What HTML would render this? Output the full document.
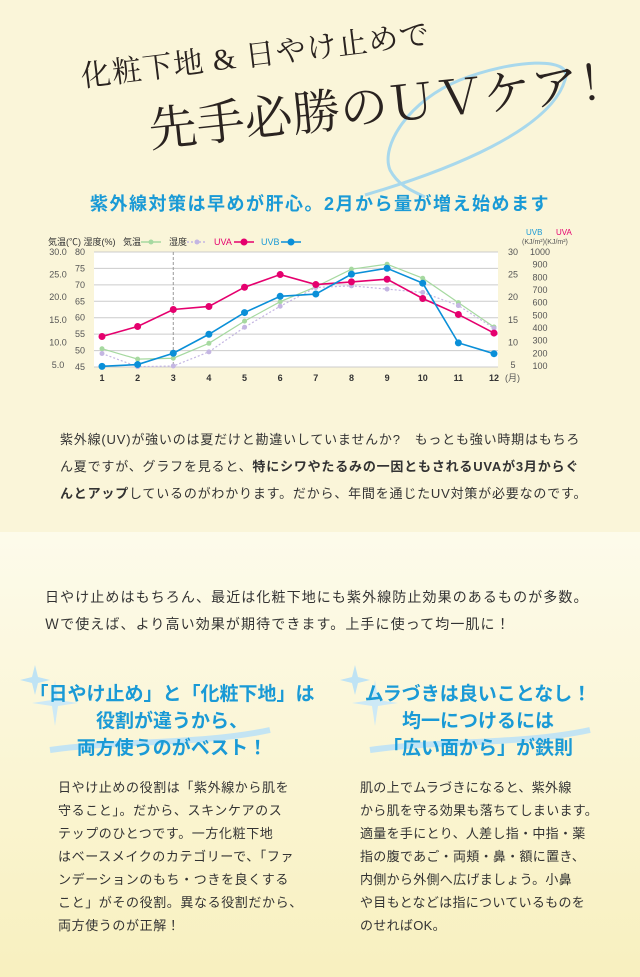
<!DOCTYPE html>
<html><head><meta charset="utf-8"><style>
*{margin:0;padding:0;box-sizing:border-box}
body{width:640px;height:977px;overflow:hidden;background:#faf5d9;font-family:"Liberation Sans","Noto Sans CJK JP",sans-serif;color:#333;position:relative}
.abs{position:absolute}
.t1{left:78px;top:52px;font-size:30px;color:#2a2320;transform:rotate(-7deg);transform-origin:left top;white-space:nowrap;font-family:"Liberation Serif","Noto Serif CJK SC",serif;letter-spacing:1px}
.t2{left:145px;top:92px;font-size:48px;color:#2a2320;transform:rotate(-6deg);transform-origin:left top;white-space:nowrap;font-family:"Liberation Serif","Noto Serif CJK SC",serif}
.sub{left:0;width:640px;top:190px;text-align:center;color:#1a9ad6;font-weight:bold;font-size:18px;letter-spacing:1.5px}
.p{font-size:13px;line-height:27px;color:#333;white-space:nowrap;letter-spacing:0.8px}
.lower{left:0;top:532px;width:640px;height:445px;background:linear-gradient(#fdfbeb,#f8f0bf)}
.h{color:#1a9ad6;font-weight:bold;font-size:19px;line-height:27px;text-align:center;width:300px;white-space:nowrap}
.col{font-size:13px;line-height:23px;letter-spacing:0.6px;color:#333;white-space:nowrap}
</style></head><body>
<svg class="abs" style="left:360px;top:55px" width="240" height="150"><path d="M5 140 C90 115 190 75 205 25 C215 0 150 5 100 25 C50 45 20 90 30 115 C38 130 50 135 65 142" fill="none" stroke="#a8d8ec" stroke-width="3"/></svg>
<div class="abs t1">化粧下地 &amp; 日やけ止めで</div>
<div class="abs t2">先手必勝のＵＶケア！</div>
<div class="abs sub">紫外線対策は早めが肝心。2月から量が増え始めます</div>
<svg class="abs" style="left:0;top:225px" width="640" height="170" id="chart"></svg>
<div class="abs p" style="left:60px;top:426px">紫外線(UV)が強いのは夏だけと勘違いしていませんか?　もっとも強い時期はもちろ<br>ん夏ですが、グラフを見ると、<b>特にシワやたるみの一因ともされるUVAが3月からぐ<br>んとアップ</b>しているのがわかります。だから、年間を通じたUV対策が必要なのです。</div>
<div class="abs lower"></div>
<div class="abs p" style="left:45px;top:584px;font-size:14px;letter-spacing:1.1px">日やけ止めはもちろん、最近は化粧下地にも紫外線防止効果のあるものが多数。<br>Ｗで使えば、より高い効果が期待できます。上手に使って均一肌に！</div>
<svg class="abs" style="left:20px;top:655px" width="620" height="110">
<path d="M15 10 l3 12 l12 3 l-12 3 l-3 12 l-3 -12 l-12 -3 l12 -3z" fill="#bfe3f4"/>
<path d="M35 25 l3 20 l20 3 l-20 3 l-3 20 l-3 -20 l-20 -3 l20 -3z" fill="#cde9f6"/>
<path d="M30 95 C100 85 180 90 250 75" stroke="#c3e4f3" stroke-width="6" fill="none"/>
<path d="M335 10 l3 12 l12 3 l-12 3 l-3 12 l-3 -12 l-12 -3 l12 -3z" fill="#bfe3f4"/>
<path d="M355 25 l3 20 l20 3 l-20 3 l-3 20 l-3 -20 l-20 -3 l20 -3z" fill="#cde9f6"/>
<path d="M350 95 C420 85 500 90 570 75" stroke="#c3e4f3" stroke-width="6" fill="none"/>
</svg>
<div class="abs h" style="left:22px;top:681px">「日やけ止め」と「化粧下地」は<br>役割が違うから、<br>両方使うのがベスト！</div>
<div class="abs h" style="left:328px;top:681px">ムラづきは良いことなし！<br>均一につけるには<br>「広い面から」が鉄則</div>
<div class="abs col" style="left:58px;top:776px">日やけ止めの役割は「紫外線から肌を<br>守ること」。だから、スキンケアのス<br>テップのひとつです。一方化粧下地<br>はベースメイクのカテゴリーで、「ファ<br>ンデーションのもち・つきを良くする<br>こと」がその役割。異なる役割だから、<br>両方使うのが正解！</div>
<div class="abs col" style="left:360px;top:776px;letter-spacing:0.3px">肌の上でムラづきになると、紫外線<br>から肌を守る効果も落ちてしまいます。<br>適量を手にとり、人差し指・中指・薬<br>指の腹であご・両頬・鼻・額に置き、<br>内側から外側へ広げましょう。小鼻<br>や目もとなどは指についているものを<br>のせればOK。</div>
<script>
const months=[1,2,3,4,5,6,7,8,9,10,11,12];
const temp=[8.6,6.3,6.5,9.8,14.7,19.0,22.3,26.2,27.3,24.2,18.8,13.4];
const humidity=[49.1,45.1,45.3,49.6,57.1,63.5,69.2,69.7,68.7,67.7,63.7,56.8];
const uva=[333,412,546,570,722,822,743,764,785,633,507,360];
const uvb=[4.7,5.1,7.6,11.8,16.6,20.2,20.7,25.1,26.4,23.1,9.9,7.5];
const tempTicks=[30,25,20,15,10,5];
const humTicks=[80,75,70,65,60,55,50,45];
const uvbTicks=[30,25,20,15,10,5];
const uvaTicks=[1000,900,800,700,600,500,400,300,200,100];
const svg=document.getElementById('chart');
const NS='http://www.w3.org/2000/svg';
const top0=27,bot=142,L=94,R=498;
const x=m=>102+(m-1)*(494-102)/11;
const yTemp=v=>top0+(30-v)*(bot-2-top0)/25;
const yHum=v=>top0+(80-v)*(bot-top0)/35;
const yUva=v=>top0+(1000-v)*(bot-1-top0)/900;
const yUvb=v=>top0+(30-v)*(bot-2-top0)/25;
function el(t,a,p){const e=document.createElementNS(NS,t);for(const k in a)e.setAttribute(k,a[k]);(p||svg).appendChild(e);return e;}
function txt(s,xx,yy,a){const e=el('text',Object.assign({x:xx,y:yy,'font-size':9,fill:'#555','font-family':'Liberation Sans, Noto Sans CJK JP, sans-serif'},a||{}));e.textContent=s;return e;}
el('rect',{x:L,y:top0,width:R-L,height:bot-top0,fill:'#fff'});
humTicks.forEach(v=>{const l=el('line',{x1:L,x2:R,y1:yHum(v),y2:yHum(v),stroke:'#ccc','stroke-width':1});


txt(v,80,yHum(v)+3,{'text-anchor':'middle'});});
tempTicks.forEach(v=>{txt(v.toFixed(1),58,yTemp(v)+3,{'text-anchor':'middle'});});
uvbTicks.forEach(v=>{txt(v,513,yUvb(v)+3,{'text-anchor':'middle'});});
uvaTicks.forEach(v=>{txt(v,540,yUva(v)+3,{'text-anchor':'middle'});});
months.forEach(m=>{const t=txt(m,x(m),bot+14,{'text-anchor':'middle','font-weight':'bold',fill:'#333'});

});
txt('(月)',505,bot+14,{'text-anchor':'start'});
el('line',{x1:x(3),x2:x(3),y1:top0,y2:bot,stroke:'#999','stroke-dasharray':'3,2'});
txt('気温(℃) 湿度(%)',48,20,{fill:'#333'});
txt('UVB',526,10,{fill:'#1a9ad6','font-size':8});txt('UVA',556,10,{fill:'#e5006e','font-size':8});
txt('(KJ/m²)(KJ/m²)',522,19,{fill:'#555','font-size':7});
function series(vals,yf,color,r,dash,name){
 const pts=vals.map((v,i)=>x(months[i])+','+yf(v)).join(' ');
 const pl=el('polyline',{points:pts,fill:'none',stroke:color,'stroke-width':r>3?1.6:1.2,'stroke-dasharray':dash||''});
 
 
 vals.forEach((v,i)=>{const c=el('circle',{cx:x(months[i]),cy:yf(v),r:r,fill:color});
 
 });
}
series(temp,yTemp,'#a6d9a0',2.5,'','temperature');
series(humidity,yHum,'#c4b6e2',2.5,'2,2','humidity');
series(uva,yUva,'#e5006e',3.5,'','uva');
series(uvb,yUvb,'#0a8fd8',3.5,'','uvb');
function legend(lbl,lx,ls,color,r,dash,lc){txt(lbl,lx,20,{fill:lc});
 el('line',{x1:ls,x2:ls+20,y1:17,y2:17,stroke:color,'stroke-width':1.4,'stroke-dasharray':dash||''});el('circle',{cx:ls+10,cy:17,r:r,fill:color});}
legend('気温',123,141,'#a6d9a0',2.5,'','#333');
legend('湿度',169,187,'#c4b6e2',2.5,'2,2','#333');
legend('UVA',214,234,'#e5006e',3.5,'','#e5006e');
legend('UVB',261,281,'#0a8fd8',3.5,'','#1a9ad6');
</script>
</body></html>
